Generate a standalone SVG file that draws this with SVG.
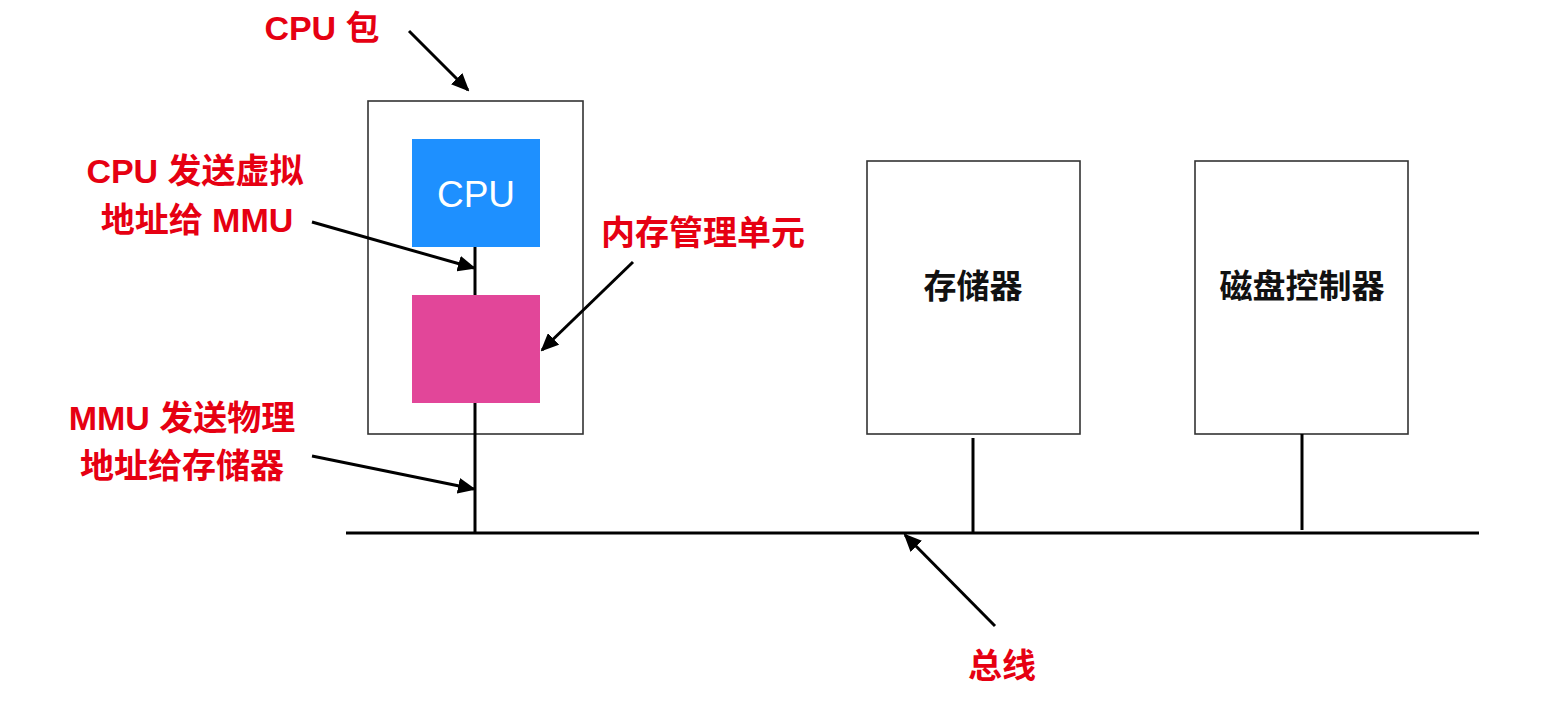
<svg xmlns="http://www.w3.org/2000/svg" width="1548" height="702" viewBox="0 0 1548 702">
<style>
.box{fill:#fff;stroke:#333;stroke-width:1.6}
.wire{stroke:#000;stroke-width:3;fill:none}
.arr{stroke:#000;stroke-width:3;fill:none;marker-end:url(#ah)}
.red{fill:#E60012;font-family:"Liberation Sans","Noto Sans CJK SC",sans-serif;font-weight:bold;font-size:34px;text-anchor:middle}
.blk{fill:#111;font-family:"Liberation Sans","Noto Sans CJK SC",sans-serif;font-weight:bold;font-size:33px;text-anchor:middle}
</style>
<defs>
<marker id="ah" markerWidth="18" markerHeight="16" refX="16" refY="8" orient="auto" markerUnits="userSpaceOnUse">
<path d="M0,0 L18,8 L0,16 Z" fill="#000"/>
</marker>
</defs>
<rect width="1548" height="702" fill="#fff"/>
<g id="cpu-package">
<rect class="box" x="368" y="101" width="215" height="333"/>
</g>
<g id="cpu">
<rect x="412" y="139" width="128" height="108" fill="#1E90FF"/>
<text x="476" y="207" fill="#fff" font-family="Liberation Sans,sans-serif" font-size="37" text-anchor="middle">CPU</text>
</g>
<g id="mmu">
<rect x="412" y="295" width="128" height="108" fill="#E24699"/>
</g>
<g id="memory">
<rect class="box" x="867" y="161" width="213" height="273"/>
<text class="blk" x="973" y="298">存储器</text>
</g>
<g id="disk-controller">
<rect class="box" x="1195" y="161" width="213" height="273"/>
<text class="blk" x="1302" y="298">磁盘控制器</text>
</g>
<g id="connectors">
<line class="wire" x1="346" y1="533" x2="1479" y2="533"/>
<line class="wire" x1="475" y1="247" x2="475" y2="295"/>
<line class="wire" x1="475" y1="403" x2="475" y2="533"/>
<line class="wire" x1="973" y1="438" x2="973" y2="533"/>
<line class="wire" x1="1302" y1="434" x2="1302" y2="530"/>
<line class="arr" x1="409" y1="31" x2="468" y2="90"/>
<line class="arr" x1="312" y1="222" x2="474" y2="268"/>
<line class="arr" x1="633" y1="262" x2="542" y2="350"/>
<line class="arr" x1="312" y1="456" x2="474" y2="489"/>
<line class="arr" x1="995" y1="626" x2="905" y2="535"/>
</g>
<g id="labels">
<text class="red" x="322" y="40">CPU 包</text>
<text class="red" x="195" y="183">CPU 发送虚拟</text>
<text class="red" x="197" y="232">地址给 MMU</text>
<text class="red" x="703" y="245">内存管理单元</text>
<text class="red" x="182" y="430">MMU 发送物理</text>
<text class="red" x="182" y="478">地址给存储器</text>
<text class="red" x="1002" y="678">总线</text>
</g>
</svg>
